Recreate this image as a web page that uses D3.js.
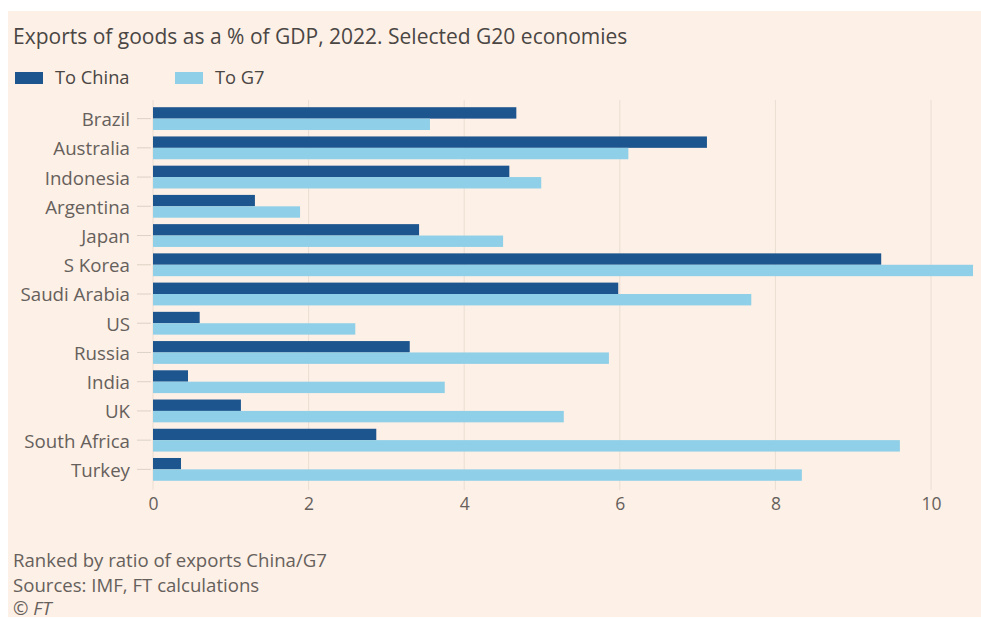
<!DOCTYPE html>
<html>
<head>
<meta charset="utf-8">
<script src="https://cdn.jsdelivr.net/npm/d3@7"></script>
<style>
  body { margin: 0; background: #fff; }
  svg { display: block; font-family: "Open Sans", Lato, sans-serif; }
</style>
</head>
<body>
<svg width="981" height="619"></svg>
<script>
// data
var countries = ['Brazil', 'Australia', 'Indonesia', 'Argentina', 'Japan', 'S Korea',
  'Saudi Arabia', 'US', 'Russia', 'India', 'UK', 'South Africa', 'Turkey']
var toChina = [4.67, 7.12, 4.58, 1.31, 3.42, 9.36, 5.98, 0.60, 3.30, 0.45, 1.13, 2.87, 0.36]
var toG7 = [3.56, 6.11, 4.99, 1.89, 4.50, 10.54, 7.69, 2.60, 5.86, 3.75, 5.28, 9.60, 8.34]
var xTicks = [0, 2, 4, 6, 8, 10]
var seriesNames = ['To China', 'To G7']
var colors = ['#1d558e', '#8fcfe7']

var font = '"Open Sans", Lato, sans-serif'
var svg = d3.select('svg')

svg.append('rect')
  .attr('x', 8).attr('y', 11)
  .attr('width', 973).attr('height', 606)
  .attr('fill', '#fdf0e6')

svg.append('text')
  .attr('x', 13).attr('y', 44)
  .attr('font-size', 21)
  .attr('fill', '#4a4644')
  .text('Exports of goods as a % of GDP, 2022. Selected G20 economies')

// legend
var legend = svg.selectAll('g.legend')
  .data(seriesNames)
  .enter()
  .append('g')
  .attr('class', 'legend')
  .attr('transform', function(d, i) { return 'translate(' + (15 + i * 160) + ',72)' })

legend.append('rect')
  .attr('width', 28).attr('height', 12)
  .attr('fill', function(d, i) { return colors[i] })

legend.append('text')
  .attr('x', 40).attr('y', 12)
  .attr('font-size', 18.3)
  .attr('fill', '#4a4644')
  .text(function(d) { return d })

var x = d3.scaleLinear().domain([0, 10]).range([153, 931])
var y = d3.scaleBand().domain(countries).range([104, 484]).paddingInner(0.22).paddingOuter(0.11)
var half = y.bandwidth() / 2

// gridlines
svg.append('g')
  .selectAll('line')
  .data(xTicks)
  .enter()
  .append('line')
  .attr('x1', function(d) { return x(d) })
  .attr('x2', function(d) { return x(d) })
  .attr('y1', 100).attr('y2', 490)
  .attr('stroke', '#eaded3')
  .attr('stroke-width', 1)

// x axis labels
svg.append('g')
  .attr('transform', 'translate(0,490)')
  .call(d3.axisBottom(x).tickValues(xTicks).tickSize(0).tickPadding(8).tickFormat(d3.format('d')))
  .call(function(g) { g.select('.domain').remove() })
  .selectAll('text')
  .attr('font-size', 17.5)
  .attr('font-family', font)
  .attr('fill', '#66605c')

// y axis labels
svg.append('g')
  .attr('transform', 'translate(151,0)')
  .call(d3.axisLeft(y).tickSize(14).tickPadding(7))
  .call(function(g) { g.select('.domain').remove() })
  .call(function(g) { g.selectAll('line').attr('stroke', '#ddd2c8') })
  .selectAll('text')
  .attr('font-size', 18.7)
  .attr('font-family', font)
  .attr('fill', '#66605c')
  .attr('dy', '0.4em')

// bars
var bars = svg.append('g')

bars.selectAll('rect.china')
  .data(countries)
  .enter()
  .append('rect')
  .attr('class', 'china')
  .attr('x', x(0))
  .attr('y', function(d) { return y(d) })
  .attr('width', function(d, i) { return x(toChina[i]) - x(0) })
  .attr('height', half)
  .attr('fill', colors[0])

bars.selectAll('rect.g7')
  .data(countries)
  .enter()
  .append('rect')
  .attr('class', 'g7')
  .attr('x', x(0))
  .attr('y', function(d) { return y(d) + half })
  .attr('width', function(d, i) { return x(toG7[i]) - x(0) })
  .attr('height', half)
  .attr('fill', colors[1])

// footer
var notes = ['Ranked by ratio of exports China/G7', 'Sources: IMF, FT calculations']
svg.selectAll('text.note')
  .data(notes)
  .enter()
  .append('text')
  .attr('class', 'note')
  .attr('x', 13)
  .attr('y', function(d, i) { return 567 + i * 24.5 })
  .attr('font-size', 18.6)
  .attr('fill', '#66605c')
  .text(function(d) { return d })

svg.append('text')
  .attr('x', 13).attr('y', 615)
  .attr('font-size', 18.6)
  .attr('font-style', 'italic')
  .attr('fill', '#66605c')
  .text('© FT')
</script>
</body>
</html>
